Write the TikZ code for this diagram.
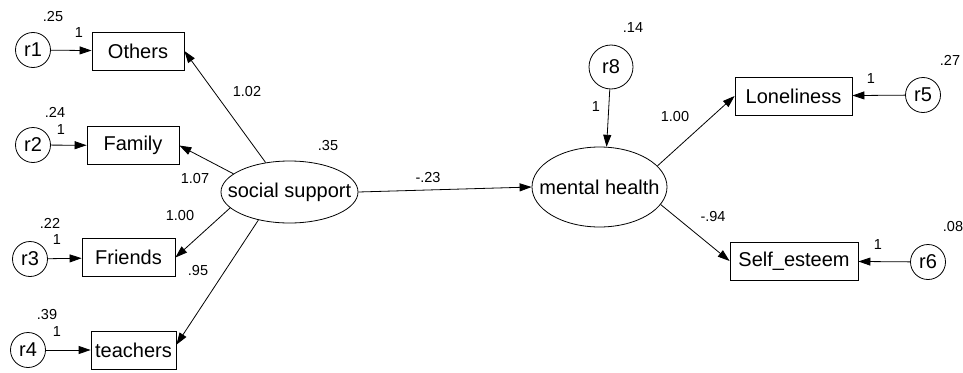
\documentclass[tikz,border=0pt]{standalone}
\usepackage{fontspec}
\setmainfont{Liberation Sans}
\usetikzlibrary{shapes.geometric,arrows.meta}
\tikzset{
    obs/.style={draw, rectangle, minimum height=38pt, inner sep=0pt, font=\fontsize{20}{24}\selectfont},
    err/.style={draw, circle, minimum size=35pt, inner sep=0pt, font=\fontsize{20}{24}\selectfont},
    lat/.style={draw, ellipse, inner sep=0pt, font=\fontsize{20}{24}\selectfont},
    est/.style={inner sep=0pt, font=\fontsize{14.5}{17}\selectfont},
    link/.style={-{Triangle[length=12pt,width=8pt]}, line width=0.8pt}
}
\begin{document}
\begin{tikzpicture}[x=1pt, y=-1pt, line width=0.8pt]
    \useasboundingbox (0,0) rectangle (963,372);
    % observed indicators
    \node[obs, minimum width=92pt] (others) at (138,51) {Others};
    \node[obs, minimum width=92pt] (family) at (133,145.5) {Family};
    \node[obs, minimum width=93pt] (friends) at (128.5,257.5) {Friends};
    \node[obs, minimum width=85pt] (teachers) at (133.5,350) {teachers};
    \node[obs, minimum width=117pt] (lonely) at (793.5,96) {Loneliness};
    \node[obs, minimum width=128pt] (esteem) at (794,261) {Self\_esteem};
    % latent variables
    \node[lat, minimum width=137pt, minimum height=62pt] (ss) at (289.5,192) {\makebox[0pt]{social support}};
    \node[lat, minimum width=135pt, minimum height=80pt] (mh) at (599.5,187) {\makebox[0pt]{mental health}};
    % error terms
    \foreach \e/\x/\y in {r1/33/50, r2/33/145, r3/30/259, r4/28/350, r5/923/95, r6/928/262}
        \node[err] (\e) at (\x,\y) {\e};
    \node[err, minimum size=44pt] (r8) at (611,67) {r8};
    % paths
    \draw[link] (r1) -- (others);
    \draw[link] (r2) -- (family);
    \draw[link] (r3) -- (friends);
    \draw[link] (r4) -- (teachers);
    \draw[link] (r5) -- (lonely);
    \draw[link] (r6) -- (esteem);
    \draw[link] (r8) -- (mh.80);
    \draw[link] (ss.129) -- (others.east);
    \draw[link] (ss.162) -- (family.east);
    \draw[link] (ss.195) -- (friends.east);
    \draw[link] (ss.222) -- (teachers.7);
    \draw[link] (ss.east) -- (mh.west);
    \draw[link] (mh.20) -- (lonely.west);
    \draw[link] (mh.-16) -- (esteem.west);
    % variances
    \node[est] (v1) at (53,17) {.25};
    \node[est] (v2) at (55,112) {.24};
    \node[est] (v3) at (50,223) {.22};
    \node[est] (v4) at (47,315) {.39};
    \node[est] (v5) at (950,60) {.27};
    \node[est] (v6) at (953,227) {.08};
    \node[est] (v8) at (633,28) {.14};
    \node[est] (vss) at (328,146) {.35};
    % fixed loadings
    \node[est] (f1) at (79,33) {1};
    \node[est] (f2) at (61,130) {1};
    \node[est] (f3) at (57,240) {1};
    \node[est] (f4) at (57,332) {1};
    \node[est] (f5) at (871,79) {1};
    \node[est] (f6) at (878,245) {1};
    \node[est] (f8) at (596,107) {1};
    % estimates
    \node[est] (w1) at (247,92) {1.02};
    \node[est] (w2) at (195,179) {1.07};
    \node[est] (w3) at (180,216) {1.00};
    \node[est] (w4) at (198,271) {.95};
    \node[est] (w5) at (428,178) {-.23};
    \node[est] (w6) at (675,117) {1.00};
    \node[est] (w7) at (713,217) {-.94};
\end{tikzpicture}
\end{document}
